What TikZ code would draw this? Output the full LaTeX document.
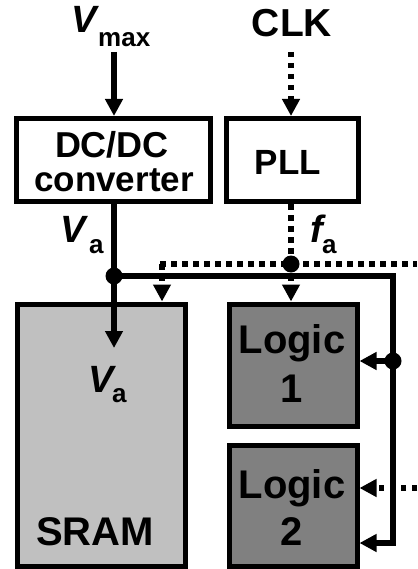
\documentclass[tikz,border=0pt]{standalone}
\usepackage{fontspec}
\setmainfont{Liberation Sans}
\usetikzlibrary{arrows.meta}
\definecolor{sramgray}{HTML}{C0C0C0}
\definecolor{logicgray}{HTML}{808080}
\begin{document}
\begin{tikzpicture}[x=1pt,y=-1pt,
  blk/.style={draw=black, line width=5pt, inner sep=0pt},
  wire/.style={line width=5.5pt, line join=miter},
  dotl/.style={line width=5.5pt, dash pattern=on 5.5pt off 5.5pt},
  tip/.style={-{Triangle[length=17pt,width=17pt]}},
  jn/.style={circle, fill=black, minimum size=17pt, inner sep=0pt},
  lab/.style={font=\bfseries\fontsize{36}{40}\selectfont, inner sep=0pt},
  big/.style={font=\bfseries\fontsize{40}{44}\selectfont, inner sep=0pt},
  varV/.style={font=\bfseries\itshape\fontsize{38}{40}\selectfont, inner sep=0pt},
  subs/.style={font=\bfseries\fontsize{26}{28}\selectfont, inner sep=0pt}]
\useasboundingbox (0,0) rectangle (417,569);

% blocks
\node[blk, minimum width=194pt, minimum height=83pt] (dc) at (113,160) {};
\node[blk, minimum width=132pt, minimum height=83pt] (pll) at (292,160) {};
\node[blk, fill=sramgray, minimum width=168pt, minimum height=262pt] (sram) at (101,435) {};
\node[blk, fill=logicgray, minimum width=128pt, minimum height=122pt] (l1) at (293,365) {};
\node[blk, fill=logicgray, minimum width=128pt, minimum height=121pt] (l2) at (293,505.5) {};

% coordinates
\coordinate (vin) at (114,52);
\coordinate (cin) at (291,52);
\coordinate (jv) at (114,276);
\coordinate (jf) at (291,264);
\coordinate (dl) at (160,264);
\coordinate (dr) at (417,264);
\coordinate (rc) at (393,276);
\coordinate (rb) at (393,543);
\coordinate (jr) at (393,361);
\coordinate (sa) at (114,348);
\coordinate (ds) at (162,264);
\coordinate (ext) at (417,488);

% dotted clock wires
\draw[dotl,tip] (cin) -- (cin |- pll.north);
\draw[dotl] (pll.south -| jf) -- (jf);
\draw[dotl] (dl) -- (dr);
\draw[dotl,tip] (ds) -- (ds |- sram.north);
\draw[dotl,tip] (jf) -- (jf |- l1.north);
\draw[dotl,tip] (ext) -- (ext -| l2.east);

% solid power wires
\draw[wire,tip] (vin) -- (vin |- dc.north);
\draw[wire] (jv |- dc.south) -- (jv);
\draw[wire,tip] (jv) -- (sa);
\draw[wire,tip] (jv) -- (rc) -- (rb) -- (rb -| l2.east);
\draw[wire,tip] (jr) -- (jr -| l1.east);

% junctions
\node[jn] (d1) at (jv) {};
\node[jn] (d2) at (jf) {};
\node[jn] (d3) at (jr) {};

% texts
\node[varV, anchor=base east] (vmV) at (97,33) {V};
\node[subs, anchor=base west] (vmS) at (98,47) {max};
\node[lab, font=\bfseries\fontsize{39}{40}\selectfont, anchor=base] (clk) at (292,37) {CLK};
\node[lab, anchor=base] (dct1) at (112,158) {DC/DC};
\node[lab, font=\bfseries\fontsize{35}{40}\selectfont, anchor=base] (dct2) at (114,192) {converter};
\node[lab, font=\bfseries\fontsize{35}{40}\selectfont, anchor=base] (pllt) at (288,175) {PLL};
\node[varV, anchor=base east] (vaV) at (86,242) {V};
\node[subs, anchor=base west] (vaS) at (89,253) {a};
\node[varV, anchor=base west] (faV) at (310,242) {f};
\node[subs, anchor=base west] (faS) at (322,253) {a};
\node[varV, anchor=base east] (sV) at (114,392) {V};
\node[subs, anchor=base west] (sS) at (112,402) {a};
\node[big, anchor=base] (l1a) at (292,353) {Logic};
\node[big, anchor=base] (l1b) at (292,402) {1};
\node[big, anchor=base] (l2a) at (292,498) {Logic};
\node[big, anchor=base] (l2b) at (292,545) {2};
\node[big, anchor=base] (srt) at (95,545) {SRAM};
\end{tikzpicture}
\end{document}
